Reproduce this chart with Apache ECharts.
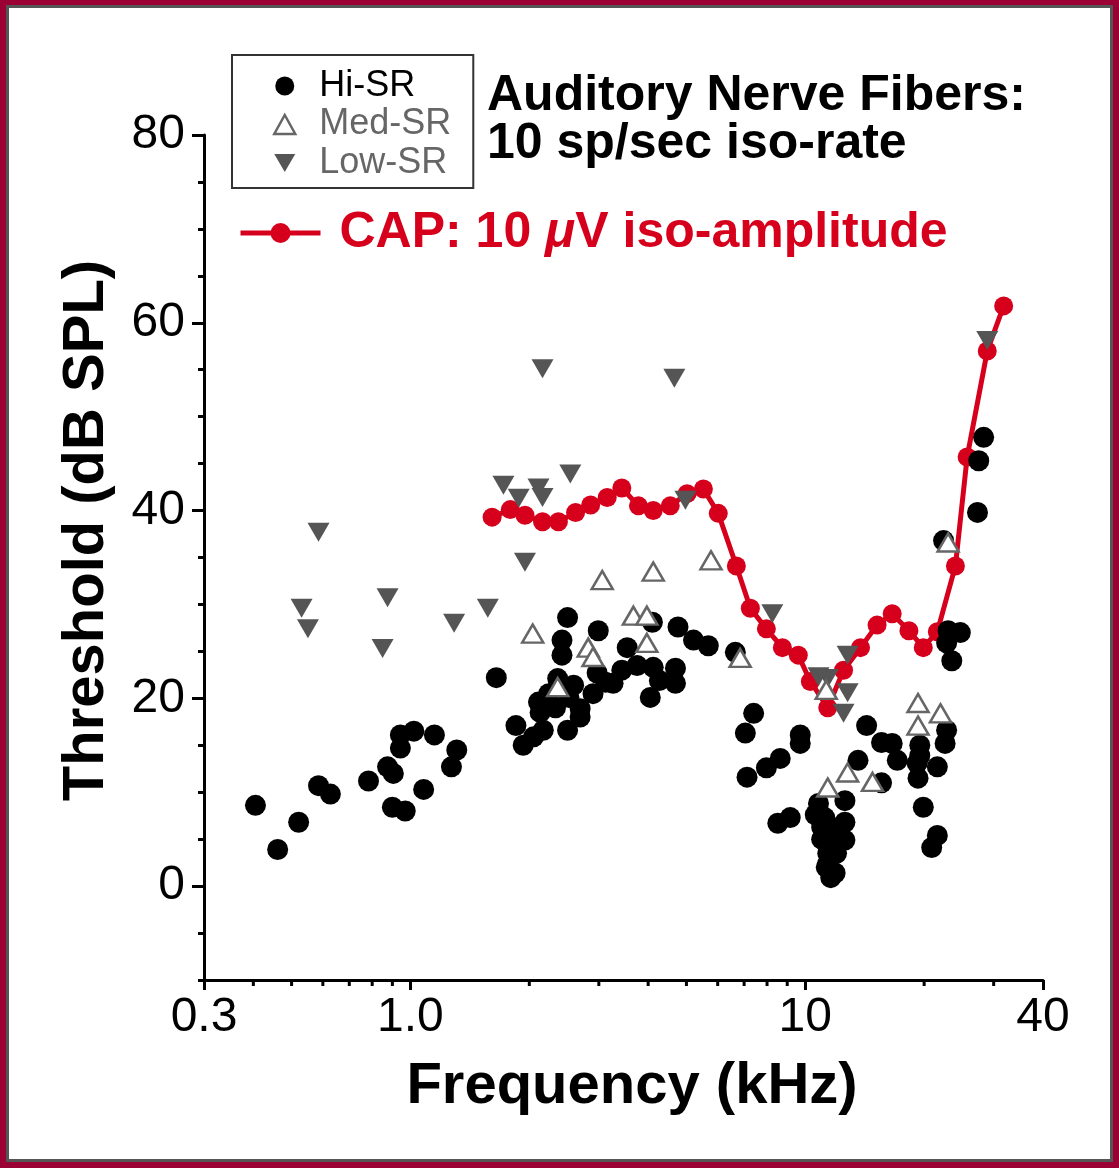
<!DOCTYPE html>
<html>
<head>
<meta charset="utf-8">
<script src="https://cdn.jsdelivr.net/npm/echarts@6/dist/echarts.min.js"></script>
<style>
  html, body { margin: 0; padding: 0; background: #fff; }
  #chart { width: 1119px; height: 1168px; }
</style>
</head>
<body>
<div id="chart"></div>
<script>
// ---------- data (frequency kHz, threshold dB SPL) ----------
const capCurve = [
  [1.61,39.3],[1.79,40.1],[1.95,39.5],[2.16,38.8],[2.37,38.8],[2.62,39.8],[2.86,40.6],[3.15,41.4],
  [3.43,42.4],[3.78,40.5],[4.12,40.0],[4.55,40.5],[5.02,41.8],[5.52,42.3],[6.02,39.7],[6.69,34.1],
  [7.26,29.6],[7.97,27.4],[8.75,25.4],[9.6,24.6],[10.3,21.8],[11.4,19.0],[12.5,23.0],[13.8,25.4],
  [15.2,27.8],[16.6,29.0],[18.3,27.2],[19.9,25.4],[21.6,27.1],[24.0,34.1],[25.7,45.7],[28.9,57.0],
  [31.8,61.8]
];
const hiSR = [
  [0.405,8.6],[0.461,3.9],[0.521,6.8],[0.585,10.7],[0.627,9.8],[0.783,11.2],[0.875,12.7],[0.905,12.0],
  [0.943,16.1],[1.02,16.5],[0.943,14.7],[1.15,16.1],[1.31,14.5],[1.27,12.7],[1.08,10.3],[0.90,8.4],[0.97,8.0],
  [1.65,22.2],[2.50,28.6],[2.99,27.2],[2.42,26.2],[2.42,24.6],[3.54,25.4],[4.10,28.1],[4.76,27.6],
  [5.21,26.2],[5.68,25.6],[6.65,24.9],[3.75,23.5],[3.43,23.0],[2.97,22.7],[3.12,21.7],[3.26,21.6],
  [4.12,23.3],[4.27,21.9],[4.69,23.2],[4.69,21.6],[4.05,20.1],[2.90,20.5],[2.69,18.9],[2.59,21.4],
  [2.36,22.1],[2.52,20.1],[2.33,19.0],[2.11,19.6],[2.13,18.5],[2.24,20.5],[2.69,18.0],[2.50,16.6],
  [2.17,16.6],[2.05,15.9],[1.93,15.0],[1.85,17.1],
  [7.05,16.3],[7.40,18.4],[8.64,13.6],[7.97,12.6],[7.12,11.6],[9.71,16.1],[9.71,15.2],[8.52,6.7],[9.16,7.3],
  [14.3,17.1],[15.6,15.3],[16.6,15.2],[17.1,13.4],[13.6,13.4],[15.6,11.0],
  [12.6,9.1],[10.8,8.8],[10.6,7.6],[11.2,7.3],[12.6,6.8],[11.6,6.3],[12.6,4.9],[11.5,4.9],[11.4,3.5],
  [12.0,3.5],[11.4,2.4],[11.9,1.4],[11.6,0.9],[11.0,6.3],[11.0,5.0],[11.3,2.0],
  [22.8,16.6],[22.6,15.2],[19.5,15.0],[19.5,13.9],[19.2,13.1],[21.6,12.7],[19.3,11.5],[19.9,8.4],
  [21.6,5.4],[20.9,4.1],
  [23.0,27.2],[24.7,27.0],[22.8,25.9],[23.5,24.0],[22.4,36.8],[28.3,47.8],[27.5,45.3],[27.3,39.8]
];
const medSR = [
  [3.06,32.6],[4.12,33.5],[5.77,34.7],[2.04,26.9],[3.67,28.8],[3.97,28.8],[2.82,25.4],[2.90,24.4],
  [3.97,25.9],[2.36,21.2],[6.84,24.3],[11.4,10.5],[12.8,12.1],[14.8,11.1],[19.3,19.5],[22.0,18.4],
  [19.3,17.1],[23.0,36.6],[11.3,20.9]
];
const lowSR = [
  [0.585,37.7],[0.53,29.6],[0.55,27.4],[0.875,30.7],[0.85,25.3],[1.29,28.0],[1.57,29.6],[2.16,55.1],
  [4.66,54.1],[1.72,42.7],[1.88,41.3],[2.11,42.4],[2.16,41.4],[2.54,43.9],[1.95,34.5],[4.97,41.1],
  [8.25,29.0],[12.8,24.6],[11.4,22.1],[10.8,22.3],[12.8,20.6],[12.5,18.4],[28.9,58.1]
];
// ---------- axis ticks / labels ----------
const xMajorTicks = [0.3, 1, 10, 40];
const xMajorLabels = ['0.3', '1.0', '10', '40'];
const xMinorTicks = [0.4,0.5,0.6,0.7,0.8,0.9,2,3,4,5,6,7,8,9,20,30];
const yMajorTicks = [0, 20, 40, 60, 80];
const yMinorTicks = [-10,-5,5,10,15,25,30,35,45,50,55,65,70,75];
const legendNames = ['Hi-SR', 'Med-SR', 'Low-SR'];
const capName = 'CAP: 10 μV iso-amplitude';
const titleLines = ['Auditory Nerve Fibers:', '10 sp/sec iso-rate'];

const FONT = '"Liberation Sans", Arial, Helvetica, sans-serif';
const RED = '#d6001c';
const DARK = '#555555';
const MED = '#666666';
const DOWN_TRI = 'path://M0,0L22,0L11,19Z';

const chart = echarts.init(document.getElementById('chart'), null, { renderer: 'canvas' });

const option = {
  animation: false,
  backgroundColor: '#ffffff',
  graphic: [
    { type: 'rect', silent: true, z: -10, shape: { x: 0, y: 0, width: 1119, height: 1168 }, style: { fill: '#9b0034' } },
    { type: 'rect', silent: true, z: -9, shape: { x: 7.5, y: 6.5, width: 1104, height: 1154 }, style: { fill: '#ffffff', stroke: '#555', lineWidth: 3 } }
  ],
  title: {
    text: titleLines.join('\n'),
    left: 487, top: 72, padding: 0,
    textStyle: { fontFamily: FONT, fontSize: 50, fontWeight: 'bold', color: '#000', lineHeight: 48 }
  },
  legend: [
    {
      data: [
        { name: legendNames[0], icon: 'circle', textStyle: { color: '#000' } },
        { name: legendNames[1], icon: 'triangle', textStyle: { color: MED },
          itemStyle: { color: '#fff', borderColor: MED, borderWidth: 2.5 } },
        { name: legendNames[2], icon: DOWN_TRI, textStyle: { color: MED } }
      ],
      orient: 'vertical',
      left: 232, top: 55,
      padding: [13, 22, 7, 41],
      itemWidth: 21, itemHeight: 19, itemGap: 2.5,
      symbolKeepAspect: true,
      selectedMode: false,
      borderColor: '#333', borderWidth: 2, borderRadius: 0,
      textStyle: { fontFamily: FONT, fontSize: 36, lineHeight: 36, padding: [0, 0, 0, 19] }
    },
    {
      data: [capName],
      left: 238, top: 208, padding: 0,
      itemWidth: 80, itemHeight: 25,
      selectedMode: false,
      lineStyle: { width: 5, color: RED },
      textStyle: { fontFamily: FONT, fontSize: 50, fontWeight: 'bold', color: RED, lineHeight: 50,
        padding: [0, 0, 0, 14],
        rich: { i: { fontFamily: FONT, fontSize: 50, fontWeight: 'bold', fontStyle: 'italic', color: RED } } },
      formatter: function (n) { return n.replace('μ', '{i|μ}'); }
    }
  ],
  grid: { left: 204, right: 76, top: 135, bottom: 188, containLabel: false },
  xAxis: [{
    type: 'log', logBase: 10, min: 0.3, max: 40, position: 'bottom',
    name: 'Frequency (kHz)', nameLocation: 'middle', nameGap: 78,
    nameTextStyle: { fontFamily: FONT, fontSize: 58, fontWeight: 'bold', color: '#000', padding: [0, 0, 0, 17] },
    axisLine: { show: true, onZero: false, lineStyle: { color: '#000', width: 3 } },
    axisTick: { show: true, length: 10, lineStyle: { color: '#000', width: 3 } },
    axisLabel: {
      fontFamily: FONT, fontSize: 48, color: '#000', margin: 14,
      showMinLabel: true, showMaxLabel: true,
      formatter: function (v) {
        for (let i = 0; i < xMajorTicks.length; i++) {
          if (Math.abs(v - xMajorTicks[i]) < 1e-6 * xMajorTicks[i]) return xMajorLabels[i];
        }
        return '';
      }
    },
    splitLine: { show: false }, minorTick: { show: false }
  }],
  yAxis: [{
    type: 'value', min: -10, max: 80, position: 'left',
    name: 'Threshold (dB SPL)', nameLocation: 'middle', nameGap: 88, nameRotate: 90,
    nameTextStyle: { fontFamily: FONT, fontSize: 58, fontWeight: 'bold', color: '#000', padding: [0, 0, 0, 54] },
    axisLine: { show: true, onZero: false, lineStyle: { color: '#000', width: 3 } },
    axisTick: { show: true, length: 12, customValues: yMajorTicks, lineStyle: { color: '#000', width: 3 } },
    axisLabel: { customValues: yMajorTicks, fontFamily: FONT, fontSize: 48, color: '#000', margin: 19 },
    splitLine: { show: false }
  }, {
    type: 'value', min: -10, max: 80, position: 'left', offset: 0,
    axisLine: { show: false },
    axisTick: { show: true, length: 6, customValues: yMinorTicks, lineStyle: { color: '#000', width: 3 } },
    axisLabel: { show: false },
    splitLine: { show: false }
  }],
  series: [
    {
      name: 'xMinorTicks', type: 'custom', silent: true, z: 1,
      xAxisIndex: 0, yAxisIndex: 0,
      data: xMinorTicks.map(v => [v, -10]),
      renderItem: function (params, api) {
        const p = api.coord([api.value(0), api.value(1)]);
        return { type: 'line', shape: { x1: p[0], y1: p[1], x2: p[0], y2: p[1] + 6 },
          style: { stroke: '#000', lineWidth: 3 } };
      }
    },
    {
      name: capName, type: 'line', z: 2, data: capCurve,
      symbol: 'circle', symbolSize: 19, showAllSymbol: true,
      itemStyle: { color: RED }, lineStyle: { color: RED, width: 5 }
    },
    {
      name: legendNames[0], type: 'scatter', z: 3, data: hiSR,
      symbol: 'circle', symbolSize: 21, itemStyle: { color: '#000', opacity: 1 }
    },
    {
      name: legendNames[2], type: 'scatter', z: 4, data: lowSR,
      symbol: 'triangle', symbolRotate: 180, symbolSize: [22, 19], itemStyle: { color: DARK, opacity: 1 }
    },
    {
      name: legendNames[1], type: 'scatter', z: 5, data: medSR,
      symbol: 'triangle', symbolSize: [21, 18],
      itemStyle: { color: '#fff', borderColor: MED, borderWidth: 2.5, opacity: 1 }
    }
  ]
};
chart.setOption(option);
</script>
</body>
</html>
